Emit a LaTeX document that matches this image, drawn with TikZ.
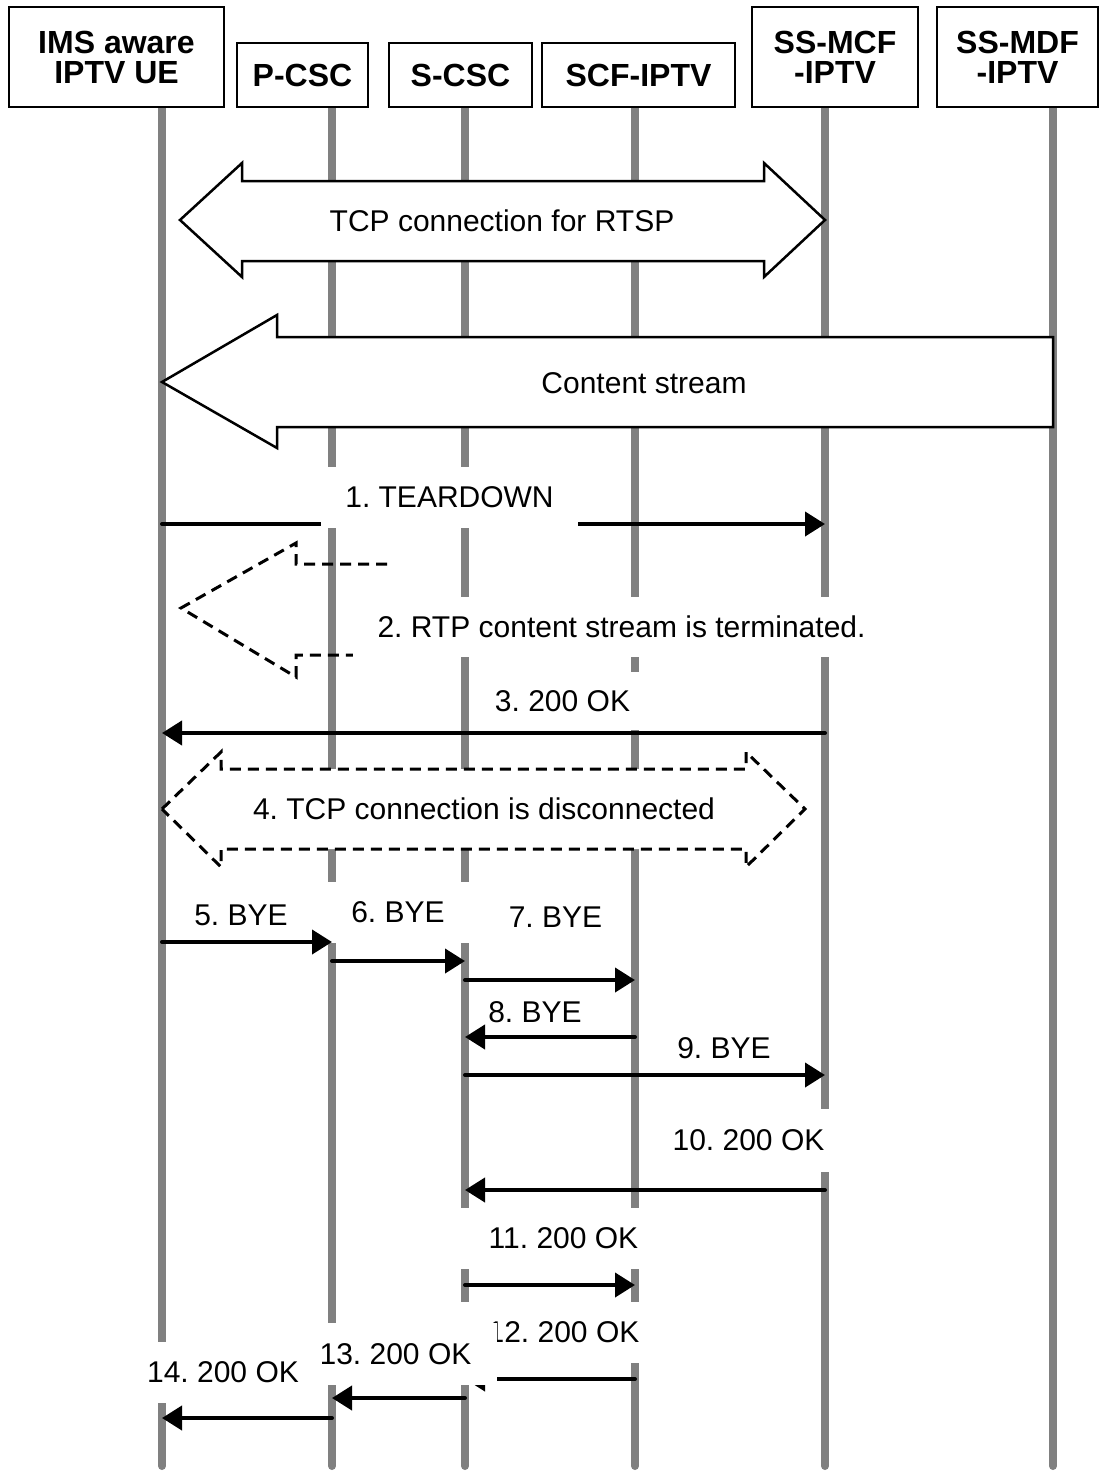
\documentclass[tikz,border=0pt]{standalone}
\usepackage{fontspec}
\setmainfont{Liberation Sans}
\usetikzlibrary{arrows.meta}
\frenchspacing

\begin{document}
\begin{tikzpicture}[
  x=1pt, y=-1pt,
  entita/.style={draw=black, line width=2.8pt, fill=white, align=center,
                 inner sep=0pt, font=\fontsize{32}{30}\selectfont\bfseries},
  vita/.style={draw=black!50, line width=8pt, line cap=round},
  freccia/.style={draw=black, line width=4pt, line cap=round,
                  -{Triangle[length=20pt,width=24pt]}},
  blocco/.style={draw=black, line width=2.5pt, fill=white},
  tratteggio/.style={draw=black, line width=3pt, dash pattern=on 11pt off 7pt},
  etichetta/.style={fill=white, inner sep=0pt, font=\fontsize{30}{36}\selectfont}
]

% Pagina fissata: stesse proporzioni e margini dell'originale (1 px = 1 pt)
\useasboundingbox (0,0) rectangle (1104,1472);

% ---- linee di vita -------------------------------------------------
\foreach \nome/\x in {vUE/162, vPCSC/332, vSCSC/465, vSCF/635, vMCF/825, vMDF/1053}{
  \coordinate (\nome) at (\x,107);
  \draw[vita] (\nome) -- (\x,1466);
}

% ---- entita' -------------------------------------------------------
\node[entita, minimum width=215, minimum height=100] (UE)   at (116.5,57) {IMS aware\\IPTV UE};
\node[entita, minimum width=131, minimum height=64]  (PCSC) at (302.5,75) {P-CSC};
\node[entita, minimum width=143, minimum height=64]  (SCSC) at (460.5,75) {S-CSC};
\node[entita, minimum width=193, minimum height=64]  (SCF)  at (638.5,75) {SCF-IPTV};
\node[entita, minimum width=166, minimum height=100] (MCF)  at (835,57)   {SS-MCF\\-IPTV};
\node[entita, minimum width=161, minimum height=100] (MDF)  at (1017.5,57) {SS-MDF\\-IPTV};

% ---- frecce a blocco: connessione TCP e flusso -----------------------
\draw[blocco] (180,220) -- (242,163) -- (242,181) -- (764,181) -- (764,163)
  -- (825,220) -- (764,277) -- (764,261) -- (242,261) -- (242,277) -- cycle;
\node[etichetta] (tcp) at (502,221) {TCP connection for RTSP};

\draw[blocco] (162,382) -- (277,315) -- (277,337) -- (1053,337)
  -- (1053,427) -- (277,427) -- (277,448) -- cycle;
\node[etichetta] (flusso) at (644,383) {Content stream};

% ---- 1: TEARDOWN (l'etichetta copre parte della freccia) -------------
\draw[freccia] (vUE |- 0,524) -- (vMCF |- 0,524);
\node[etichetta, minimum width=257, minimum height=61] (et1) at (449.5,497.5) {1. TEARDOWN};

% ---- 2: fine del flusso RTP ----------------------------------------
\draw[tratteggio] (387,564) -- (296,564) -- (296,543) -- (181,608)
  -- (296,677) -- (296,655) -- (353,655);
\node[etichetta, minimum width=537, minimum height=60] (et2) at (621.5,627) {2. RTP content stream is terminated.};

% ---- 3 -------------------------------------------------------------
\node[etichetta, minimum width=185, minimum height=58] (et3) at (562.5,701) {3. 200 OK};
\draw[freccia] (vMCF |- 0,733) -- (vUE |- 0,733);

% ---- 4: disconnessione TCP -----------------------------------------
\draw[tratteggio, fill=white] (162,809) -- (221,752) -- (221,769) -- (746,769)
  -- (746,752) -- (805,809) -- (746,867) -- (746,849) -- (221,849) -- (221,867) -- cycle;
\node[etichetta] (et4) at (484,809) {4. TCP connection is disconnected};

% ---- 5..9: BYE -----------------------------------------------------
\node[etichetta] (et5) at (241,915) {5. BYE};
\node[etichetta, minimum width=144, minimum height=61] (et6) at (398,912.5) {6. BYE};
\node[etichetta, minimum width=143, minimum height=58] (et7) at (555.5,917) {7. BYE};
\draw[freccia] (vUE |- 0,942) -- (vPCSC |- 0,942);
\draw[freccia] (vPCSC |- 0,961) -- (vSCSC |- 0,961);
\draw[freccia] (vSCSC |- 0,980) -- (vSCF |- 0,980);

\node[etichetta] (et8) at (535,1012) {8. BYE};
\draw[freccia] (vSCF |- 0,1037) -- (vSCSC |- 0,1037);
\node[etichetta] (et9) at (724,1048) {9. BYE};
\draw[freccia] (vSCSC |- 0,1075) -- (vMCF |- 0,1075);

% ---- 10..14: 200 OK ------------------------------------------------
\node[etichetta, minimum width=187, minimum height=63] (et10) at (748.5,1140.5) {10. 200 OK};
\draw[freccia] (vMCF |- 0,1190) -- (vSCSC |- 0,1190);

\node[etichetta, minimum width=205, minimum height=61] (et11) at (563.5,1238.5) {11. 200 OK};
\draw[freccia] (vSCSC |- 0,1285) -- (vSCF |- 0,1285);

\node[etichetta, minimum width=205, minimum height=61] (et12) at (563.5,1332.5) {12. 200 OK};
\draw[freccia] (vSCF |- 0,1379) -- (vSCSC |- 0,1379);   % punta nascosta dalla 13

\node[etichetta, minimum width=203, minimum height=62] (et13) at (395.5,1354) {13. 200 OK};
\node[etichetta, minimum width=198, minimum height=61] (et14) at (223,1372.5) {14. 200 OK};
\draw[freccia] (vSCSC |- 0,1398) -- (vPCSC |- 0,1398);
\draw[freccia] (vPCSC |- 0,1418) -- (vUE |- 0,1418);

\end{tikzpicture}
\end{document}
